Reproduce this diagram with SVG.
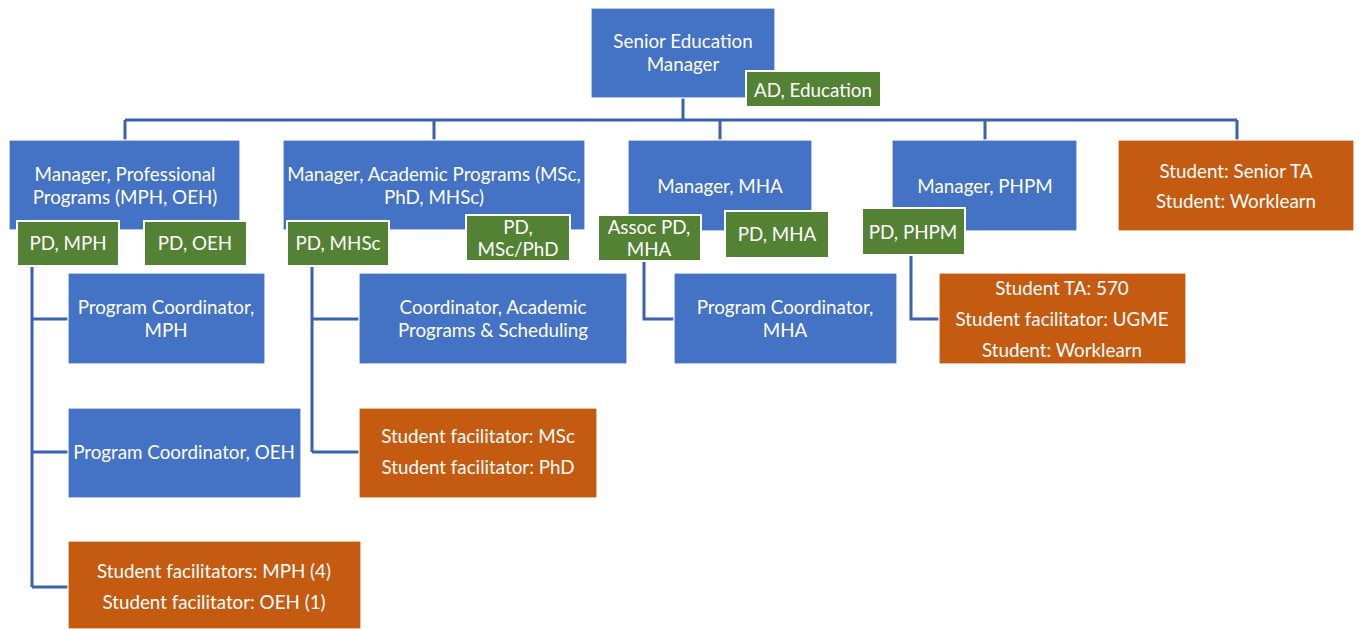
<svg xmlns="http://www.w3.org/2000/svg" width="1359" height="629" viewBox="0 0 1359 629">
<style>
.b{fill:#4472C4;stroke:#ffffff;stroke-width:1.2}
.g{fill:#548235;stroke:#ffffff;stroke-width:2}
.o{fill:#C55A11;stroke:#ffffff;stroke-width:1.2}
text{font-family:Lato,"Liberation Sans",sans-serif;font-size:18.8px;fill:#ffffff;text-anchor:middle;dominant-baseline:central}
.c{fill:none;stroke:#3A62AD;stroke-width:3}
</style>
<rect width="1359" height="629" fill="#ffffff"/>
<g id="connectors">
<path class="c" d="M683 98V120M125 120H1237M125 120V140M434 120V140M720 120V140M985 120V140M1237 120V140"/>
<path class="c" d="M32 266V587M32 319H68M32 452H68M32 587H68"/>
<path class="c" d="M312 266V452M312 319H359M312 452H359"/>
<path class="c" d="M644 261V319H674"/>
<path class="c" d="M911 255V319H939"/>
</g>
<g id="senior"><rect class="b" x="591" y="8" width="184" height="90"/><text x="683" y="40">Senior Education</text><text x="683" y="63">Manager</text></g>
<g id="ad-education"><rect class="g" x="746" y="71" width="135" height="36"/><text x="813" y="89">AD, Education</text></g>
<g id="mgr-professional"><rect class="b" x="9" y="140" width="231" height="90"/><text x="125" y="173">Manager, Professional</text><text x="125" y="196">Programs (MPH, OEH)</text></g>
<g id="pd-mph"><rect class="g" x="17" y="221" width="102" height="45"/><text x="68" y="242">PD, MPH</text></g>
<g id="pd-oeh"><rect class="g" x="144" y="221" width="103" height="45"/><text x="195" y="242">PD, OEH</text></g>
<g id="mgr-academic"><rect class="b" x="283" y="140" width="302" height="90"/><text x="434" y="173">Manager, Academic Programs (MSc,</text><text x="434" y="196">PhD, MHSc)</text></g>
<g id="pd-mhsc"><rect class="g" x="287" y="221" width="102" height="45"/><text x="338" y="242">PD, MHSc</text></g>
<g id="pd-mscphd"><rect class="g" x="466" y="215" width="104" height="46"/><text x="518" y="226">PD,</text><text x="518" y="248">MSc/PhD</text></g>
<g id="mgr-mha"><rect class="b" x="628" y="140" width="184" height="91"/><text x="720" y="185">Manager, MHA</text></g>
<g id="assoc-pd-mha"><rect class="g" x="598" y="215" width="103" height="46"/><text x="649" y="226">Assoc PD,</text><text x="649" y="248">MHA</text></g>
<g id="pd-mha"><rect class="g" x="725" y="211" width="104" height="47"/><text x="777" y="233">PD, MHA</text></g>
<g id="mgr-phpm"><rect class="b" x="892" y="140" width="185" height="91"/><text x="985" y="185">Manager, PHPM</text></g>
<g id="pd-phpm"><rect class="g" x="862" y="208" width="103" height="47"/><text x="913" y="231">PD, PHPM</text></g>
<g id="student-senior-ta"><rect class="o" x="1118" y="140" width="236" height="91"/><text x="1236" y="170">Student: Senior TA</text><text x="1236" y="200">Student: Worklearn</text></g>
<g id="pc-mph"><rect class="b" x="68" y="273" width="197" height="91"/><text x="166" y="306">Program Coordinator,</text><text x="166" y="329">MPH</text></g>
<g id="pc-oeh"><rect class="b" x="68" y="408" width="233" height="90"/><text x="184" y="451">Program Coordinator, OEH</text></g>
<g id="sf-mph"><rect class="o" x="68" y="541" width="293" height="88"/><text x="214" y="570">Student facilitators: MPH (4)</text><text x="214" y="601">Student facilitator: OEH (1)</text></g>
<g id="coord-academic"><rect class="b" x="359" y="273" width="268" height="91"/><text x="493" y="306">Coordinator, Academic</text><text x="493" y="329">Programs &amp; Scheduling</text></g>
<g id="sf-msc"><rect class="o" x="359" y="408" width="238" height="90"/><text x="478" y="435">Student facilitator: MSc</text><text x="478" y="466">Student facilitator: PhD</text></g>
<g id="pc-mha"><rect class="b" x="674" y="273" width="223" height="91"/><text x="785" y="306">Program Coordinator,</text><text x="785" y="329">MHA</text></g>
<g id="student-ta-570"><rect class="o" x="939" y="273" width="247" height="91"/><text x="1062" y="287">Student TA: 570</text><text x="1062" y="318">Student facilitator: UGME</text><text x="1062" y="349">Student: Worklearn</text></g>
</svg>
